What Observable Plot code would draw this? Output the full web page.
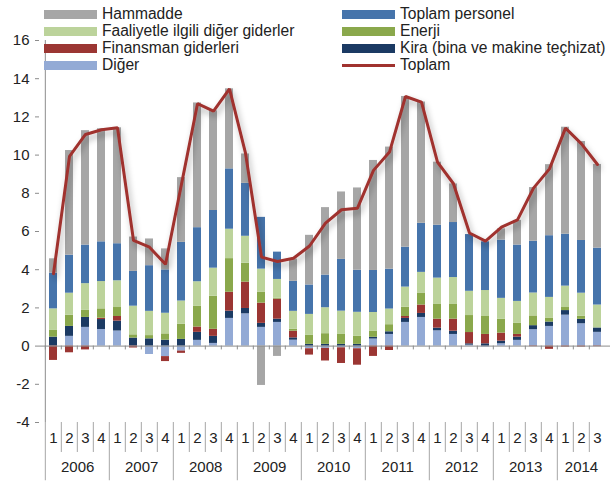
<!DOCTYPE html>
<html><head><meta charset="utf-8">
<script src="https://cdn.jsdelivr.net/npm/d3@7"></script>
<script src="https://cdn.jsdelivr.net/npm/@observablehq/plot@0.6"></script>
<style>
body{margin:0;background:#fff;font-family:"Liberation Sans",Arial,sans-serif;}
#wrap{position:relative;width:610px;height:483px;overflow:hidden;}
#wrap svg{position:absolute;left:0;top:0;}
.lg{position:absolute;display:flex;align-items:center;height:18px;font-size:15.6px;color:#222;white-space:nowrap;}
.sw{width:53px;height:9px;margin-right:5px;flex:none;}
.swl{width:53px;height:3px;margin-right:5px;flex:none;}
</style></head><body><div id="wrap"></div>
<script>
// ---- Data ----
const yearLabels = ["2006","2007","2008","2009","2010","2011","2012","2013","2014"];
const quartersPerYear = [4,4,4,4,4,4,4,4,3];
const quarterLabels = ["1","2","3","4","1","2","3","4","1","2","3","4","1","2","3","4","1","2","3","4","1","2","3","4","1","2","3","4","1","2","3","4","1","2","3"];
const yTicks = [-4,-2,0,2,4,6,8,10,12,14,16];

const hammadde = [0.75,5.48,5.99,5.92,6.07,1.80,1.40,1.10,3.39,6.53,5.22,4.19,1.54,-2.06,-0.54,1.17,2.60,3.53,3.53,4.31,5.76,6.39,7.89,6.35,3.30,2.02,0,0,0.59,1.29,2.81,3.72,5.60,5.18,4.38];
const personel = [1.87,1.99,2.02,2.08,1.94,1.82,2.39,2.27,3.07,2.83,3.02,3.16,2.77,2.71,1.43,1.57,1.54,1.71,2.71,2.20,2.20,2.09,2.09,2.57,2.77,2.88,2.97,2.55,3.05,2.95,2.71,3.23,2.72,2.76,2.98];
const faaliyet = [1.13,1.15,1.40,1.43,1.40,1.50,1.27,1.08,1.22,1.29,1.47,1.54,1.41,1.20,0.98,0.94,1.10,1.36,1.22,1.26,0.99,0.82,1.05,1.08,1.38,1.41,1.27,1.36,1.10,1.15,1.20,1.08,1.12,1.20,1.20];
const enerji = [0.35,0.59,0.37,0.49,0.47,0.17,0.17,0.33,0.79,1.08,1.73,1.76,0.99,0.58,0.05,0.10,0.47,0.56,0.52,0.42,0.31,0.37,0.49,0.63,0.77,0.77,0.89,0.94,0.72,0.58,0.51,0.21,0.16,0.17,0];
const finansman = [-0.75,-0.35,-0.20,0.07,0.24,-0.10,0,-0.26,-0.12,0.28,0.37,0.99,1.38,1.06,1.05,0.35,-0.33,-0.66,-0.82,-0.86,-0.54,-0.23,0.10,0.44,0.47,0.63,0.59,0.49,0.42,0.14,-0.03,-0.17,-0.05,-0.05,-0.03];
const kira = [0.47,0.52,0.52,0.52,0.52,0.42,0.38,0.31,0.35,0.42,0.37,0.38,0.28,0.21,0.17,0.12,0.09,0.09,0.09,0.09,0.09,0.14,0.21,0.21,0.14,0.17,0.07,0.12,0.14,0.17,0.21,0.23,0.24,0.23,0.23];
const diger = [0,0.51,0.98,0.87,0.79,0,-0.44,-0.55,-0.26,0.30,0.14,1.45,1.69,0.98,1.24,0.31,-0.14,-0.12,-0.09,-0.14,0.37,0.61,1.24,1.50,0.80,0.61,0.05,-0.05,0.12,0.30,0.86,1.03,1.62,1.17,0.72];
const toplam = [3.79,9.93,11.08,11.33,11.43,5.53,5.18,4.28,8.48,12.69,12.30,13.47,10.10,4.66,4.43,4.60,5.24,6.44,7.14,7.22,9.20,10.16,13.07,12.77,9.63,8.50,5.92,5.50,6.23,6.61,8.27,9.28,11.41,10.59,9.51];

const seriesNames = ["Diğer","Kira (bina ve makine teçhizat)","Finansman giderleri","Enerji","Faaliyetle ilgili diğer giderler","Toplam personel","Hammadde"];
const seriesColors = ["#93aad5","#1b3a63","#9b3633","#8aa84c","#bcd39b","#4674ab","#a6a6a6"];
const seriesData = [diger,kira,finansman,enerji,faaliyet,personel,hammadde];

// ---- Derived structures ----
const periods = [];
const yearFirst = [], yearSecond = [];
yearLabels.forEach((y, yi) => {
  for (let q = 0; q < quartersPerYear[yi]; q++) {
    const key = y + "-" + (q + 1);
    if (q === 0) yearFirst.push(key);
    if (q === 1) yearSecond.push(key);
    periods.push(key);
  }
});
const rows = [];
seriesNames.forEach((s, si) => periods.forEach((p, i) => rows.push({period: p, series: s, value: seriesData[si][i]})));

const x0 = 39, x1 = 612;
const step = (x1 - x0) / periods.length;
const axisColor = "#8c8c8c";
const fullYears = yearLabels.map((y, i) => ({y, i})).filter(d => quartersPerYear[d.i] === 4);
const partYears = yearLabels.map((y, i) => ({y, i})).filter(d => quartersPerYear[d.i] === 3);
const innerQuarters = periods.filter(p => !yearFirst.includes(p));

const chart = Plot.plot({
  width: 610, height: 483,
  marginLeft: 39, marginRight: 0, marginTop: 40, marginBottom: 61,
  x: {type: "band", domain: periods, range: [x0, x1], paddingInner: 0.48, paddingOuter: 0.24, axis: null},
  y: {domain: [-4, 16], range: [422, 40], axis: null},
  color: {domain: seriesNames, range: seriesColors},
  style: {fontFamily: "'Liberation Sans', Arial, sans-serif", fontSize: "15px", color: "#222", background: "transparent", overflow: "visible"},
  marks: [
    Plot.barY(rows, {x: "period", y: "value", fill: "series", order: seriesNames}),
    Plot.ruleY([0], {stroke: axisColor, strokeWidth: 1}),
    Plot.ruleX(periods, {x: d => d, dx: -step / 2, y1: 0, y2: -0.2, stroke: axisColor}),
    Plot.ruleX([periods[0]], {x: d => d, dx: -step / 2, y1: 16, y2: -4, stroke: axisColor}),
    Plot.axisY({ticks: yTicks, tickFormat: d => String(d), tickSize: 4, tickPadding: 6, stroke: axisColor, fontSize: 15, label: null, color: "#222"}),
    // category axis separators
    Plot.ruleX(innerQuarters, {x: d => d, dx: -step / 2, y1: -4, y2: -5.57, stroke: "#a6a6a6"}),
    Plot.ruleX(yearFirst, {x: d => d, dx: -step / 2, y1: -4, y2: -7.05, stroke: "#a6a6a6"}),
    Plot.text(periods, {x: d => d, text: (d, i) => quarterLabels[i], frameAnchor: "bottom", dy: 20, fontSize: 15, fill: "#222"}),
    Plot.text(fullYears, {x: d => yearSecond[d.i], text: d => d.y, dx: step / 2, frameAnchor: "bottom", dy: 49, fontSize: 15, fill: "#222"}),
    Plot.text(partYears, {x: d => yearSecond[d.i], text: d => d.y, frameAnchor: "bottom", dy: 49, fontSize: 15, fill: "#222"}),
    Plot.line(periods, {x: d => d, y: (d, i) => toplam[i], stroke: "#a0322f", strokeWidth: 3, strokeLinejoin: "miter", className: "toplam-line"})
  ]
});

// soft shadow under the total line
const svg = d3.select(chart);
const defs = svg.insert("defs", ":first-child");
const f = defs.append("filter").attr("id", "shadow").attr("x", "-10%").attr("y", "-10%").attr("width", "120%").attr("height", "130%");
f.append("feDropShadow").attr("dx", 2).attr("dy", 4).attr("stdDeviation", 3).attr("flood-color", "#000").attr("flood-opacity", 0.35);
svg.selectAll(".toplam-line path").attr("filter", "url(#shadow)");

const wrap = document.getElementById("wrap");
wrap.appendChild(chart);

// legend (HTML overlay)
const legendItems = [
  {name: "Hammadde", color: "#a6a6a6", col: 0, row: 0},
  {name: "Toplam personel", color: "#4674ab", col: 1, row: 0},
  {name: "Faaliyetle ilgili diğer giderler", color: "#bcd39b", col: 0, row: 1},
  {name: "Enerji", color: "#8aa84c", col: 1, row: 1},
  {name: "Finansman giderleri", color: "#9b3633", col: 0, row: 2},
  {name: "Kira (bina ve makine teçhizat)", color: "#1b3a63", col: 1, row: 2},
  {name: "Diğer", color: "#93aad5", col: 0, row: 3},
  {name: "Toplam", color: "#a0322f", col: 1, row: 3, line: true}
];
const colX = [44, 342], rowY = [14, 31, 48, 65];
legendItems.forEach(it => {
  const d = document.createElement("div");
  d.className = "lg";
  d.style.left = colX[it.col] + "px";
  d.style.top = (rowY[it.row] - 9) + "px";
  const s = document.createElement("span");
  s.className = it.line ? "swl" : "sw";
  s.style.background = it.color;
  const t = document.createElement("span");
  t.textContent = it.name;
  d.appendChild(s); d.appendChild(t);
  wrap.appendChild(d);
});
</script>
</body></html>
